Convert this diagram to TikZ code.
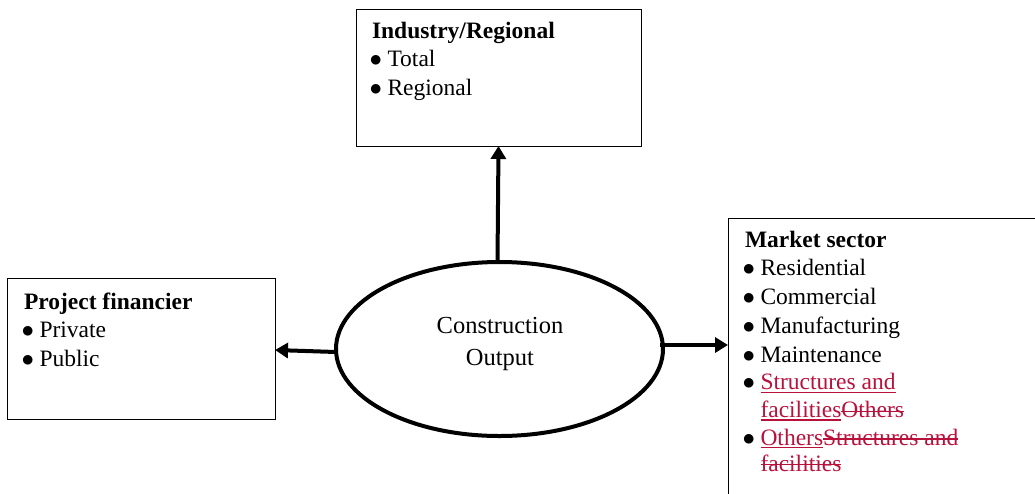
\documentclass[tikz,border=0pt]{standalone}
\usepackage{fontspec}
\setmainfont{Liberation Serif}
\usetikzlibrary{shapes.geometric,arrows.meta,calc}
\definecolor{trk}{RGB}{184,18,60}
\newsavebox\mybx
\newcommand{\myu}[1]{\sbox\mybx{#1}\rlap{\rule[-3.2pt]{\wd\mybx}{1.3pt}}\usebox\mybx}
\newcommand{\mys}[1]{\sbox\mybx{#1}\rlap{\rule[5.6pt]{\wd\mybx}{1.3pt}}\usebox\mybx}
\newcommand{\myb}{\makebox[15.5pt][l]{\hspace*{-2.5pt}\color{black}$\bullet$}}
\newcommand{\myind}{\hspace*{15.5pt}}
\begin{document}
\begin{tikzpicture}[x=1pt,y=-1pt,
  box/.style={draw,line width=0.9pt,rectangle,inner sep=0pt,outer sep=0pt},
  txt/.style={anchor=base west,inner sep=0pt,outer sep=0pt,font=\fontsize{23.5}{28.75}\selectfont},
  arr/.style={line width=4pt,-{Triangle[length=13pt,width=15pt]}}]
\useasboundingbox (0,0) rectangle (1035,493);
\clip (0,0) rectangle (1035,493);
\node[box,minimum width=285pt,minimum height=137pt] (top) at (498.5,77.5) {};
\node[box,minimum width=268pt,minimum height=141pt] (left) at (141,348.5) {};
\node[box,minimum width=320pt,minimum height=300pt,anchor=north west] (rbox) at (728,218) {};
\node[draw,ellipse,line width=4pt,minimum width=327pt,minimum height=174pt,inner sep=0pt,outer sep=0pt] (ell) at (499.5,349) {};
\node[txt,anchor=base,font=\fontsize{24.5}{32}\selectfont] (ctext) at (500,333) {\parbox[t]{220pt}{\centering Construction\\Output}};
\draw[arr] ([xshift=-2pt]ell.north) -- (top.south);
\draw[arr] ([yshift=-3pt]ell.west) -- ([yshift=-1.5pt]left.east);
\draw[arr] ($(ell.east)+(-3,-4)$) -- ($(ell.east -| rbox.west)+(0,-4)$);
\node[txt] (ttext) at (372,38) {\parbox[t]{260pt}{\textbf{Industry/Regional}\\\myb Total\\\myb Regional}};
\node[txt] (ltext) at (24,309) {\parbox[t]{240pt}{\textbf{Project financier}\\\myb Private\\\myb Public}};
\node[txt] (rtext) at (745,247) {\parbox[t]{285pt}{\textbf{Market sector}\\\myb Residential\\\myb Commercial\\\myb Manufacturing\\\myb Maintenance\\[-1pt]\myb\textcolor{trk}{\myu{Structures and}}\\[-1pt]\myind\textcolor{trk}{\myu{facilities}\mys{Others}}\\[-1pt]\myb\textcolor{trk}{\myu{Others}\mys{Structures and}}\\[-3pt]\myind\textcolor{trk}{\mys{facilities}}}};
\end{tikzpicture}
\end{document}
